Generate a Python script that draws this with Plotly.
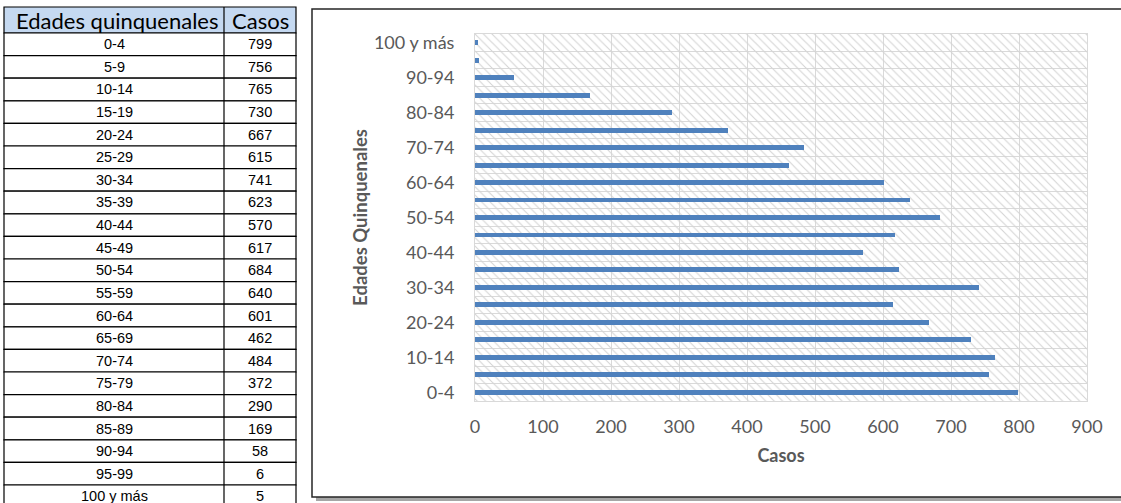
import plotly.graph_objects as go

# ---- data ----
age_groups = ["0-4", "5-9", "10-14", "15-19", "20-24", "25-29", "30-34", "35-39",
              "40-44", "45-49", "50-54", "55-59", "60-64", "65-69", "70-74", "75-79",
              "80-84", "85-89", "90-94", "95-99", "100 y más"]
cases = [799, 756, 765, 730, 667, 615, 741, 623, 570, 617, 684, 640, 601, 462,
         484, 372, 290, 169, 58, 6, 5]
table_headers = ["Edades quinquenales", "Casos"]
x_title = "Casos"
y_title = "Edades Quinquenales"
x_max = 900

W, H = 1121, 503
ML, MR, MT, MB = 475, 34, 34, 102
PW, PH = W - ML - MR, H - MT - MB
FONT = "Lato"
GRAY = "#595959"
GRID = "#D9D9D9"
BLUE = "#4F81BD"

idx = list(range(len(age_groups)))

fig = go.Figure()

# hatched plot background
fig.add_trace(go.Bar(
    y=idx, x=[x_max] * len(idx), orientation="h", width=1,
    marker=dict(color="rgba(0,0,0,0)", line=dict(width=0),
                pattern=dict(shape="\\", fgcolor="#D4D4D4", bgcolor="rgba(0,0,0,0)",
                             fillmode="replace", size=6, solidity=0.18)),
    hoverinfo="skip", showlegend=False))

# data bars
fig.add_trace(go.Bar(
    y=idx, x=cases, orientation="h", width=0.28,
    marker=dict(color=BLUE, line=dict(width=0)), showlegend=False,
    hovertemplate="%{customdata}: %{x}<extra></extra>", customdata=age_groups))


# pixel -> paper conversion (paper spans the plot area)
def px_x(v):
    return (v - ML) / PW


def px_y(v):
    return (H - MB - v) / PH


tl, tdiv, tr = 4, 224, 296
ttop, hbot, rh = 7, 33, 22.6
shapes = []
annotations = []

# ---- chart frame with shadow ----
shapes.append(dict(type="rect", xref="paper", yref="paper",
                   x0=px_x(316), x1=px_x(1130), y0=px_y(501), y1=px_y(13),
                   fillcolor="#A6A6A6", line=dict(width=0), layer="below"))
shapes.append(dict(type="rect", xref="paper", yref="paper",
                   x0=px_x(312), x1=px_x(1126), y0=px_y(497), y1=px_y(9),
                   fillcolor="white", line=dict(color="#262626", width=1.5), layer="below"))

# ---- table drawn with shapes + annotations ----
shapes.append(dict(type="rect", xref="paper", yref="paper",
                   x0=px_x(tl), x1=px_x(tr), y0=px_y(hbot), y1=px_y(ttop),
                   fillcolor="#C5D9F1", line=dict(color="black", width=1.2), layer="above"))
n = len(age_groups)
for i in range(n):
    top = hbot + rh * i
    bot = top + rh
    shapes.append(dict(type="rect", xref="paper", yref="paper",
                       x0=px_x(tl), x1=px_x(tr), y0=px_y(bot), y1=px_y(top),
                       fillcolor="white", line=dict(color="black", width=1.2), layer="above"))
    cy = px_y((top + bot) / 2)
    annotations.append(dict(xref="paper", yref="paper", x=px_x((tl + tdiv) / 2), y=cy,
                            text=age_groups[i], showarrow=False, xanchor="center", yanchor="middle",
                            font=dict(family="Liberation Sans", size=14.5, color="black")))
    annotations.append(dict(xref="paper", yref="paper", x=px_x((tdiv + tr) / 2), y=cy,
                            text=str(cases[i]), showarrow=False, xanchor="center", yanchor="middle",
                            font=dict(family="Liberation Sans", size=14.5, color="black")))
shapes.append(dict(type="line", xref="paper", yref="paper",
                   x0=px_x(tdiv), x1=px_x(tdiv), y0=px_y(hbot + rh * n), y1=px_y(ttop),
                   line=dict(color="black", width=1.2), layer="above"))
hy = px_y((ttop + hbot) / 2)
annotations.append(dict(xref="paper", yref="paper", x=px_x(14), y=hy,
                        text=table_headers[0], showarrow=False, xanchor="left", yanchor="middle",
                        font=dict(family=FONT, size=22, color="black")))
annotations.append(dict(xref="paper", yref="paper", x=px_x((tdiv + tr) / 2), y=hy,
                        text=table_headers[1], showarrow=False, xanchor="center", yanchor="middle",
                        font=dict(family=FONT, size=22, color="black")))

fig.update_layout(
    width=W, height=H,
    margin=dict(l=ML, r=MR, t=MT, b=MB, autoexpand=False),
    paper_bgcolor="white", plot_bgcolor="rgba(0,0,0,0)",
    barmode="overlay", bargap=0,
    shapes=shapes, annotations=annotations,
    font=dict(family=FONT, color=GRAY),
    xaxis=dict(range=[0, x_max], dtick=100, tick0=0, showgrid=True, gridcolor=GRID, gridwidth=1,
               zeroline=False, showline=True, linecolor=GRID, linewidth=1, mirror=True,
               ticks="", tickfont=dict(family=FONT, size=18, color=GRAY), ticklabelstandoff=9,
               title=dict(text="<b>" + x_title + "</b>", font=dict(family=FONT, size=18, color=GRAY),
                          standoff=13),
               fixedrange=True),
    yaxis=dict(range=[-0.5, n - 0.5], tickmode="array",
               tickvals=idx[::2], ticktext=age_groups[::2],
               showgrid=False, zeroline=False, showline=True, linecolor=GRID, linewidth=1, mirror=True,
               ticks="outside", ticklen=0, tickfont=dict(family=FONT, size=18, color=GRAY),
               ticklabelstandoff=16,
               minor=dict(tickmode="array", tickvals=[i - 0.5 for i in range(n + 1)],
                          showgrid=True, gridcolor=GRID, gridwidth=1, ticks="outside", ticklen=0),
               title=dict(text="<b>" + y_title + "</b>", font=dict(family=FONT, size=18.5, color=GRAY),
                          standoff=1),
               fixedrange=True),
)

fig.write_html("out.html", config={"displayModeBar": False},
               post_script="document.body.style.margin='0px';")
